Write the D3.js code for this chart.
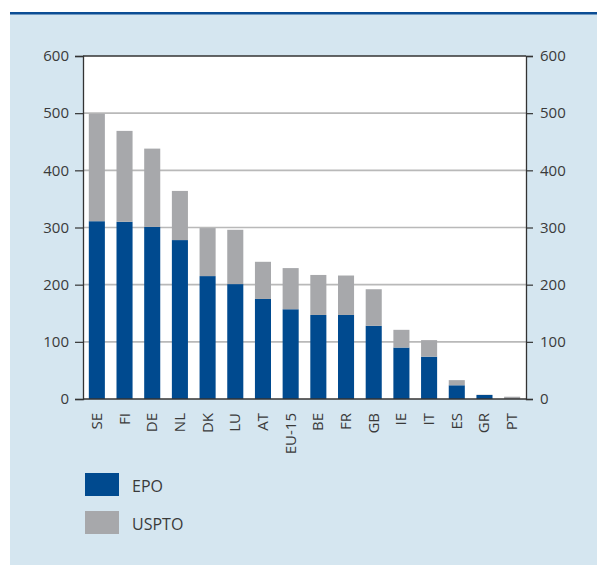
<!DOCTYPE html>
<html>
<head>
<meta charset="utf-8">
<script src="https://cdn.jsdelivr.net/npm/d3@7"></script>
<style>
  html, body { margin: 0; padding: 0; background: #ffffff; }
  svg { display: block; }
  text { font-family: "Open Sans", "Noto Sans", sans-serif; fill: #3a3a3a; }
</style>
</head>
<body>
<svg id="chart" width="597" height="565"></svg>
<script>
// Patent applications per country, split by office
const countries = ["SE", "FI", "DE", "NL", "DK", "LU", "AT", "EU-15", "BE", "FR", "GB", "IE", "IT", "ES", "GR", "PT"];
const epo   = [311, 310, 301, 278, 215, 201, 175, 157, 147, 147, 128, 90, 74, 24, 7, 0];
const uspto = [188, 159, 137, 86, 84, 95, 65, 72, 70, 69, 64, 31, 29, 9, 0.5, 4];
const yTicks = [0, 100, 200, 300, 400, 500, 600];
const seriesNames = ["EPO", "USPTO"];
const seriesColors = ["#004a8f", "#a7a8ab"];

const svg = d3.select("#chart");
const W = 597, H = 565;

// background panel with a rule along its top
svg.append("rect").attr("x", 10).attr("y", 13).attr("width", W - 10).attr("height", H - 13).attr("fill", "#d5e6f0");
svg.append("rect").attr("x", 10).attr("y", 12).attr("width", W - 10).attr("height", 2.5).attr("fill", "#0b4d94");

const plot = { left: 83, right: 526, top: 56, bottom: 399 };

const x = d3.scaleBand()
  .domain(countries)
  .range([plot.left, plot.right])
  .paddingInner(0.42)
  .paddingOuter(0.21);

const y = d3.scaleLinear().domain([0, 600]).range([plot.bottom, plot.top]);

// plot background
svg.append("rect")
  .attr("x", plot.left).attr("y", plot.top)
  .attr("width", plot.right - plot.left).attr("height", plot.bottom - plot.top)
  .attr("fill", "#ffffff");

// horizontal gridlines
svg.append("g").selectAll("line")
  .data(yTicks.filter(t => t > 0 && t < 600))
  .join("line")
  .attr("x1", plot.left).attr("x2", plot.right)
  .attr("y1", d => y(d)).attr("y2", d => y(d))
  .attr("stroke", "#b9b9b9").attr("stroke-width", 1.6);

// stacked bars
const rows = countries.map((c, i) => ({ country: c, EPO: epo[i], USPTO: uspto[i] }));
const stacked = d3.stack().keys(seriesNames)(rows);

svg.append("g").selectAll("g")
  .data(stacked)
  .join("g")
  .attr("fill", (d, i) => seriesColors[i])
  .selectAll("rect")
  .data(d => d)
  .join("rect")
  .attr("x", d => x(d.data.country))
  .attr("width", x.bandwidth())
  .attr("y", d => y(d[1]))
  .attr("height", d => y(d[0]) - y(d[1]));

// frame: top edge and baseline
svg.append("line")
  .attr("x1", plot.left).attr("x2", plot.right)
  .attr("y1", plot.top).attr("y2", plot.top)
  .attr("stroke", "#333").attr("stroke-width", 1.3);
svg.append("line")
  .attr("x1", plot.left).attr("x2", plot.right)
  .attr("y1", plot.bottom).attr("y2", plot.bottom)
  .attr("stroke", "#333").attr("stroke-width", 1.5);

// left and right value axes
const leftAxis = d3.axisLeft(y).tickValues(yTicks).tickSizeOuter(0).tickSize(8).tickPadding(6);
const rightAxis = d3.axisRight(y).tickValues(yTicks).tickSizeOuter(0).tickSize(7).tickPadding(7);

function styleAxis(g) {
  g.select(".domain").attr("stroke", "#333").attr("stroke-width", 1.3);
  g.selectAll(".tick line").attr("stroke", "#333").attr("stroke-width", 1.2);
  g.selectAll(".tick text")
    .attr("font-size", 15)
    .attr("font-family", '"Open Sans", "Noto Sans", sans-serif')
    .attr("fill", "#3a3a3a");
}

svg.append("g").attr("transform", `translate(${plot.left},0)`).call(leftAxis).call(styleAxis);
svg.append("g").attr("transform", `translate(${plot.right},0)`).call(rightAxis).call(styleAxis);

// rotated category labels
svg.append("g").selectAll("text")
  .data(countries)
  .join("text")
  .attr("transform", d => `translate(${x(d) + x.bandwidth() / 2 + 5},413) rotate(-90)`)
  .attr("text-anchor", "end")
  .attr("font-size", 15)
  .text(d => d);

// legend
const legend = svg.append("g");
seriesNames.forEach((name, i) => {
  const top = 473 + i * 38;
  legend.append("rect")
    .attr("x", 85).attr("y", top)
    .attr("width", 34).attr("height", 23)
    .attr("fill", seriesColors[i]);
  legend.append("text")
    .attr("x", 132).attr("y", top + 19)
    .attr("font-size", 16)
    .text(name);
});
</script>
</body>
</html>
